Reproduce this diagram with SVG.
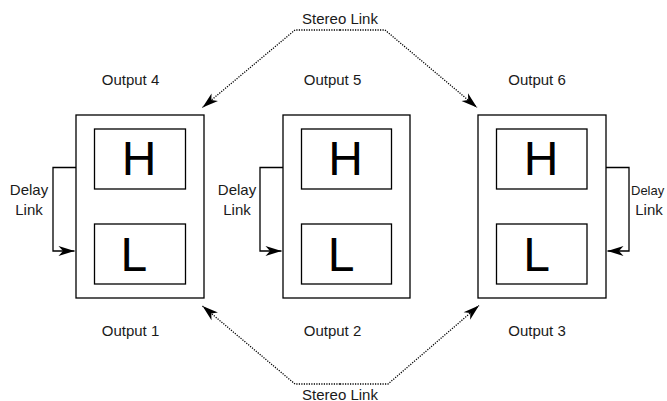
<svg xmlns="http://www.w3.org/2000/svg" width="667" height="401" viewBox="0 0 667 401">
<style>
  .outer { fill: #ffffff; stroke: #000000; stroke-width: 1.3; }
  .inner { fill: #ffffff; stroke: #000000; stroke-width: 1.3; }
  .lbl { font-family: "Liberation Sans", Arial, Helvetica, sans-serif; font-size: 15px; fill: #1a1a1a; }
  .big { font-family: "Liberation Sans", Arial, Helvetica, sans-serif; font-size: 48px; fill: #000000; }
  .link { fill: none; stroke: #000000; stroke-width: 1.3; }
  .stereo { fill: none; stroke: #000000; stroke-width: 1.3; stroke-dasharray: 1.2 1.3; }
</style>
<defs>
  <marker id="arrow" markerUnits="userSpaceOnUse" viewBox="-17 -6 18 12" refX="0" refY="0" markerWidth="18" markerHeight="12" orient="auto">
    <path d="M0,0 L-16,-5 L-11.5,0 L-16,5 Z" fill="#000000" stroke="none"/>
  </marker>
</defs>
<rect width="667" height="401" fill="#ffffff"/>

<g id="connectors">
  <path class="link" d="M76,167.5 L53,167.5 L53,251 L74.5,251" marker-end="url(#arrow)"/>
  <path class="link" d="M283,167.5 L260,167.5 L260,251 L281.5,251" marker-end="url(#arrow)"/>
  <path class="link" d="M606,167.5 L629,167.5 L629,251 L607.5,251" marker-end="url(#arrow)"/>
  <path class="stereo" d="M340,30 L295,30 L202.5,107.5" marker-end="url(#arrow)"/>
  <path class="stereo" d="M340,30 L385,30 L477,107.5" marker-end="url(#arrow)"/>
  <path class="stereo" d="M340,384 L295,384 L202.5,306" marker-end="url(#arrow)"/>
  <path class="stereo" d="M340,384 L388,384 L479,305.5" marker-end="url(#arrow)"/>
</g>

<g id="out-left">
  <rect class="outer" x="76" y="115" width="128" height="183"/>
  <rect class="inner" x="94.5" y="129" width="91" height="60"/>
  <text class="big" x="139" y="175" text-anchor="middle">H</text>
  <rect class="inner" x="94.5" y="224" width="91" height="60"/>
  <text class="big" x="120.5" y="271">L</text>
  <text class="lbl" x="130.5" y="85" text-anchor="middle">Output 4</text>
  <text class="lbl" x="130.5" y="336" text-anchor="middle">Output 1</text>
</g>

<g id="out-mid">
  <rect class="outer" x="283" y="115" width="127" height="183"/>
  <rect class="inner" x="301.5" y="129" width="90" height="60"/>
  <text class="big" x="345.5" y="175" text-anchor="middle">H</text>
  <rect class="inner" x="301.5" y="224" width="90" height="60"/>
  <text class="big" x="327.8" y="271">L</text>
  <text class="lbl" x="332.5" y="85" text-anchor="middle">Output 5</text>
  <text class="lbl" x="332.5" y="336" text-anchor="middle">Output 2</text>
</g>

<g id="out-right">
  <rect class="outer" x="478" y="115" width="128" height="183"/>
  <rect class="inner" x="496.5" y="129" width="90.5" height="60"/>
  <text class="big" x="541" y="175" text-anchor="middle">H</text>
  <rect class="inner" x="496.5" y="224" width="90.5" height="60"/>
  <text class="big" x="523.2" y="271">L</text>
  <text class="lbl" x="537" y="85" text-anchor="middle">Output 6</text>
  <text class="lbl" x="537" y="336" text-anchor="middle">Output 3</text>
</g>

<g id="delay-left">
  <text class="lbl" x="29" y="195" text-anchor="middle">Delay</text>
  <text class="lbl" x="29" y="215" text-anchor="middle">Link</text>
</g>
<g id="delay-mid">
  <text class="lbl" x="237" y="195" text-anchor="middle">Delay</text>
  <text class="lbl" x="237" y="215" text-anchor="middle">Link</text>
</g>
<g id="delay-right">
  <text class="lbl" x="631" y="195" style="font-size:13px">Delay</text>
  <text class="lbl" x="649" y="215" text-anchor="middle">Link</text>
</g>

<g id="stereo-top">
  <text class="lbl" x="340" y="23.5" text-anchor="middle">Stereo Link</text>
</g>
<g id="stereo-bottom">
  <text class="lbl" x="340" y="399.5" text-anchor="middle">Stereo Link</text>
</g>
</svg>
